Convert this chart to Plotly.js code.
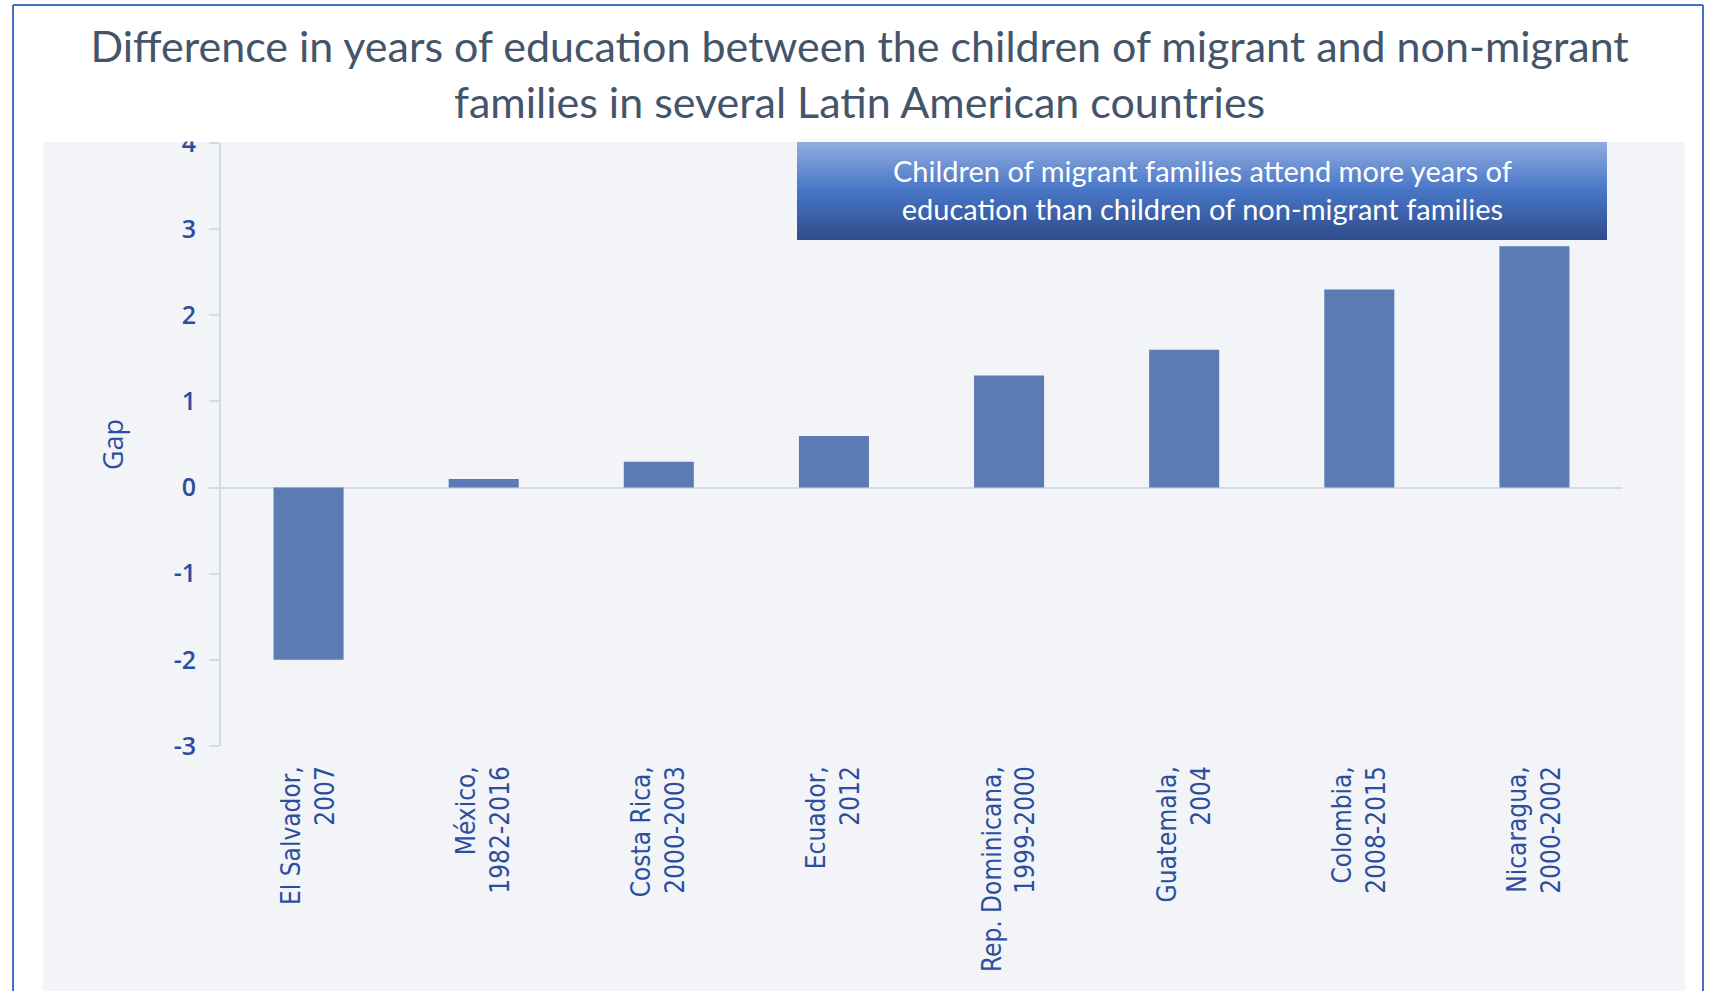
<!DOCTYPE html>
<html>
<head>
<meta charset="utf-8">
<script src="https://cdn.plot.ly/plotly-3.0.1.min.js"></script>
<style>
  html, body { margin: 0; padding: 0; background: #ffffff; }
  #chart { width: 1709px; height: 991px; }
</style>
</head>
<body>
<div id="chart"></div>
<script>
// ---- Data ----
const countries = ["El Salvador,", "México,", "Costa Rica,", "Ecuador,", "Rep. Dominicana,", "Guatemala,", "Colombia,", "Nicaragua,"];
const periods = ["2007", "1982-2016", "2000-2003", "2012", "1999-2000", "2004", "2008-2015", "2000-2002"];
const gapValues = [-2.0, 0.1, 0.3, 0.6, 1.3, 1.6, 2.3, 2.8];
const yTickValues = [-3, -2, -1, 0, 1, 2, 3, 4];
const yTickLabels = ["-3", "-2", "-1", "0", "1", "2", "3", "4"];
const chartTitle = "Difference in years of education between the children of migrant and non-migrant<br>families in several Latin American countries";
const yTitle = "Gap";
const noteText = "Children of migrant families attend more years of<br>education than children of non-migrant families";

const categories = countries.map((c, i) => c + "<br>" + periods[i]);

// ---- Styles ----
const W = 1709, H = 991;
const M = { l: 221, r: 87, t: 143, b: 245 };
const pw = W - M.l - M.r, ph = H - M.t - M.b;
const px = v => (v - M.l) / pw;          // pixel x -> paper x
const py = v => (H - M.b - v) / ph;      // pixel y -> paper y

const tickColor = "#2b4f9e";
const axisLine = "#d3dbeb";
const bgGray = "#f3f4f8";
const frameBlue = "#4472c4";

const gradSvg = "<svg xmlns='http://www.w3.org/2000/svg' width='810' height='98' viewBox='0 0 810 98' preserveAspectRatio='none'>" +
  "<defs><linearGradient id='g' x1='0' y1='0' x2='0' y2='1'>" +
  "<stop offset='0' stop-color='#91acde'/><stop offset='0.5' stop-color='#4775c6'/><stop offset='1' stop-color='#2e4c89'/>" +
  "</linearGradient></defs><rect x='0' y='0' width='810' height='98' fill='url(#g)'/></svg>";
const gradUri = "data:image/svg+xml;charset=utf-8," + encodeURIComponent(gradSvg);

const trace = {
  type: "bar",
  x: categories,
  y: gapValues,
  marker: { color: "#5b7bb3", line: { width: 0 } },
  width: 0.4,
  hoverinfo: "x+y"
};

const layout = {
  width: W, height: H,
  margin: M,
  paper_bgcolor: "#ffffff",
  plot_bgcolor: bgGray,
  showlegend: false,
  title: {
    text: chartTitle,
    font: { family: "Lato, 'Open Sans', sans-serif", size: 43, color: "#44546a" },
    x: 0.503, xref: "container", xanchor: "center",
    y: 0.937, yref: "container", yanchor: "top"
  },
  xaxis: {
    type: "category",
    range: [-0.5, 7.5],
    showline: false, zeroline: false, showgrid: false,
    ticks: "",
    tickangle: -90,
    ticklabelstandoff: 14,
    tickfont: { family: "'Liberation Sans Narrow', 'DejaVu Sans Condensed', 'Noto Sans', sans-serif", size: 26, color: tickColor },
    fixedrange: true
  },
  yaxis: {
    range: [-3, 4],
    tickvals: yTickValues,
    ticktext: yTickLabels,
    showgrid: false,
    showline: true, linecolor: axisLine, linewidth: 2,
    zeroline: true, zerolinecolor: axisLine, zerolinewidth: 2,
    ticks: "outside", ticklen: 10, tickwidth: 2, tickcolor: axisLine,
    ticklabelstandoff: 8,
    tickfont: { family: "'Open Sans', 'Noto Sans', sans-serif", size: 25, weight: 600, color: tickColor },
    title: { text: yTitle, font: { family: "'Open Sans', 'Noto Sans', sans-serif", size: 27, weight: 500, color: tickColor }, standoff: 42 },
    automargin: false,
    fixedrange: true
  },
  images: [{
    source: gradUri, xref: "paper", yref: "paper",
    x: px(797), y: py(142), sizex: px(1607) - px(797), sizey: py(142) - py(240),
    xanchor: "left", yanchor: "top", sizing: "stretch", layer: "above"
  }],
  annotations: [{
    text: noteText, xref: "paper", yref: "paper",
    x: px(1202), y: py(189), xanchor: "center", yanchor: "middle",
    showarrow: false, align: "center",
    font: { family: "Lato, 'Open Sans', sans-serif", size: 29, color: "#ffffff" }
  }],
  shapes: [
    // grey panel behind the chart
    { type: "rect", xref: "paper", yref: "paper", layer: "below",
      x0: px(43), x1: px(1685), y0: py(995), y1: py(142),
      fillcolor: bgGray, line: { width: 0 } },
    // white title band (covers the top of the highest tick label, as in the source)
    { type: "rect", xref: "paper", yref: "paper", layer: "above",
      x0: px(0), x1: px(1709), y0: py(141.5), y1: py(-2),
      fillcolor: "#ffffff", line: { width: 0 } },
    // outer frame lines
    { type: "line", xref: "paper", yref: "paper", layer: "above",
      x0: px(13), x1: px(13), y0: py(995), y1: py(5), line: { color: frameBlue, width: 2 } },
    { type: "line", xref: "paper", yref: "paper", layer: "above",
      x0: px(13), x1: px(1703), y0: py(5), y1: py(5), line: { color: frameBlue, width: 2 } },
    { type: "line", xref: "paper", yref: "paper", layer: "above",
      x0: px(1703), x1: px(1703), y0: py(995), y1: py(5), line: { color: frameBlue, width: 2 } }
  ]
};

Plotly.newPlot("chart", [trace], layout, { displayModeBar: false, responsive: false });
</script>
</body>
</html>
